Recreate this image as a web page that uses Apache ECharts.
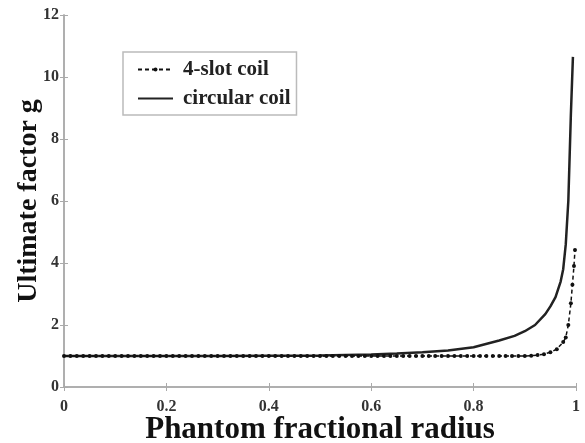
<!DOCTYPE html>
<html>
<head>
<meta charset="UTF-8">
<title>Ultimate factor g</title>
<style>
  html, body { margin: 0; padding: 0; background: #fff; }
  #chart { width: 585px; height: 443px; }
</style>
</head>
<body>
<div id="chart"></div>
<script src="https://cdn.jsdelivr.net/npm/echarts@6/dist/echarts.min.js"></script>
<script>
// circular coil (solid)
var circX = [0, 0.1, 0.2, 0.3, 0.4, 0.5, 0.6, 0.65, 0.7, 0.75, 0.8, 0.85, 0.88, 0.9, 0.92, 0.94, 0.95, 0.96, 0.97, 0.975, 0.98, 0.985, 0.99, 0.994];
var circY = [1.0, 1.0, 1.0, 1.0, 1.01, 1.02, 1.05, 1.08, 1.12, 1.18, 1.28, 1.5, 1.65, 1.8, 2.0, 2.35, 2.6, 2.9, 3.4, 3.8, 4.6, 6.0, 8.8, 10.65];

// 4-slot coil (dashed with dots)
var slotX = [0, 0.0125, 0.025, 0.0375, 0.05, 0.0625, 0.075, 0.0875, 0.1, 0.1125, 0.125, 0.1375, 0.15, 0.1625, 0.175, 0.1875,
  0.2, 0.2125, 0.225, 0.2375, 0.25, 0.2625, 0.275, 0.2875, 0.3, 0.3125, 0.325, 0.3375, 0.35, 0.3625, 0.375, 0.3875,
  0.4, 0.4125, 0.425, 0.4375, 0.45, 0.4625, 0.475, 0.4875, 0.5, 0.5125, 0.525, 0.5375, 0.55, 0.5625, 0.575, 0.5875,
  0.6, 0.6125, 0.625, 0.6375, 0.65, 0.6625, 0.675, 0.6875, 0.7, 0.7125, 0.725, 0.7375, 0.75, 0.7625, 0.775, 0.7875,
  0.8, 0.8125, 0.825, 0.8375, 0.85, 0.8625, 0.875, 0.8875, 0.9, 0.9125, 0.925, 0.9375, 0.95, 0.9625, 0.975,
  0.98, 0.985, 0.99, 0.993, 0.996, 0.998];
var slotY = [1.0, 1.0, 1.0, 1.0, 1.0, 1.0, 1.0, 1.0, 1.0, 1.0, 1.0, 1.0, 1.0, 1.0, 1.0, 1.0,
  1.0, 1.0, 1.0, 1.0, 1.0, 1.0, 1.0, 1.0, 1.0, 1.0, 1.0, 1.0, 1.0, 1.0, 1.0, 1.0,
  1.0, 1.0, 1.0, 1.0, 1.0, 1.0, 1.0, 1.0, 1.0, 1.0, 1.0, 1.0, 1.0, 1.0, 1.0, 1.0,
  1.0, 1.0, 1.0, 1.0, 1.0, 1.0, 1.0, 1.0, 1.0, 1.0, 1.0, 1.0, 1.0, 1.0, 1.0, 1.0,
  1.0, 1.0, 1.0, 1.0, 1.0, 1.0, 1.0, 1.0, 1.0, 1.01, 1.03, 1.06, 1.12, 1.22, 1.45,
  1.6, 2.0, 2.7, 3.3, 3.9, 4.42];

var xTicks = [0, 0.2, 0.4, 0.6, 0.8, 1];
var yTicks = [0, 2, 4, 6, 8, 10, 12];

function pairs(xs, ys) {
  var res = [];
  for (var i = 0; i < xs.length; i++) res.push([xs[i], ys[i]]);
  return res;
}

var font = 'Liberation Serif';
var axisGray = '#aaa';

var chart = echarts.init(document.getElementById('chart'));
var option = {
  animation: false,
  backgroundColor: '#fff',
  grid: { left: 64, right: 9, top: 15, bottom: 56, outerBoundsMode: 'none' },
  legend: {
    left: 123, top: 52, orient: 'vertical',
    padding: [7, 6, 6, 14],
    itemGap: 8,
    itemWidth: 35, itemHeight: 5,
    borderColor: '#bbb', borderWidth: 1.5,
    textStyle: { fontFamily: font, fontWeight: 'bold', fontSize: 21, color: '#222', padding: [0, 0, 0, 5] },
    data: ['4-slot coil', { name: 'circular coil', itemStyle: { opacity: 0 } }]
  },
  xAxis: [{
    type: 'value', min: 0, max: 1, interval: 0.2,
    name: 'Phantom fractional radius', nameLocation: 'middle', nameGap: 27, nameMoveOverlap: false,
    nameTextStyle: { fontFamily: font, fontWeight: 'bold', fontSize: 31, color: '#111' },
    axisLine: { lineStyle: { color: axisGray, width: 1.5 } },
    axisTick: { inside: true, length: 4, lineStyle: { color: axisGray } },
    splitLine: { show: false },
    axisLabel: { fontFamily: font, fontWeight: 'bold', fontSize: 16, color: '#333', margin: 12,
      formatter: function (v) { return xTicks.indexOf(v) >= 0 ? String(v) : ''; } }
  }, {
    type: 'value', min: 0, max: 1, interval: 0.2, position: 'top',
    axisLine: { show: true, lineStyle: { color: axisGray, width: 1.5 } },
    axisTick: { inside: true, length: 4, lineStyle: { color: axisGray } },
    axisLabel: { show: false }, splitLine: { show: false }
  }],
  yAxis: [{
    type: 'value', min: 0, max: 12, interval: 2,
    name: 'Ultimate factor g', nameLocation: 'middle', nameGap: 21, nameMoveOverlap: false,
    nameTextStyle: { fontFamily: font, fontWeight: 'bold', fontSize: 28, color: '#111' },
    axisLine: { show: true, lineStyle: { color: axisGray, width: 1.5 } },
    axisTick: { show: true, inside: true, length: 4, lineStyle: { color: axisGray } },
    splitLine: { show: false },
    axisLabel: { fontFamily: font, fontWeight: 'bold', fontSize: 16, color: '#333', margin: 5,
      formatter: function (v) { return yTicks.indexOf(v) >= 0 ? String(v) : ''; } }
  }, {
    type: 'value', min: 0, max: 12, interval: 2, position: 'right',
    axisLine: { show: true, lineStyle: { color: axisGray, width: 1.5 } },
    axisTick: { show: true, inside: true, length: 4, lineStyle: { color: axisGray } },
    axisLabel: { show: false }, splitLine: { show: false }
  }],
  series: [{
    name: '4-slot coil',
    type: 'line',
    data: pairs(slotX, slotY),
    symbol: 'circle', symbolSize: 4, showSymbol: true,
    itemStyle: { color: '#111' },
    lineStyle: { color: '#111', width: 1.5, type: [4, 3] },
    z: 3
  }, {
    name: 'circular coil',
    type: 'line',
    data: pairs(circX, circY),
    symbol: 'none', smooth: false,
    itemStyle: { color: '#222' },
    lineStyle: { color: '#222', width: 2.5 },
    z: 2
  }]
};
chart.setOption(option);
</script>
</body>
</html>
